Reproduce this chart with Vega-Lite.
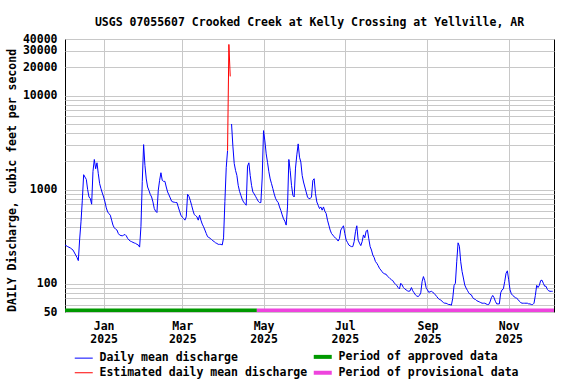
{
  "$schema": "https://vega.github.io/schema/vega-lite/v6.json",
  "width": 489,
  "height": 273,
  "autosize": {"type": "none"},
  "padding": {"left": 65, "top": 39, "right": 22, "bottom": 72},
  "background": "white",
  "title": {
    "text": "USGS 07055607 Crooked Creek at Kelly Crossing at Yellville, AR",
    "font": "DejaVu Sans Mono",
    "fontSize": 11.5,
    "fontWeight": "bold",
    "color": "black",
    "anchor": "middle",
    "frame": "group",
    "baseline": "alphabetic",
    "offset": -4
  },
  "config": {
    "view": {"stroke": "black", "strokeWidth": 1},
    "axis": {
      "labelFont": "DejaVu Sans Mono",
      "labelFontSize": 11.5,
      "labelFontWeight": "bold",
      "labelColor": "black",
      "titleFont": "DejaVu Sans Mono",
      "titleFontSize": 11.5,
      "titleFontWeight": "bold",
      "titleColor": "black",
      "gridColor": "#c8c8c8",
      "gridWidth": 1,
      "gridOpacity": 1,
      "ticks": false,
      "domain": false,
      "labelOverlap": false,
      "labelFlush": false,
      "labelBound": false
    },
    "legend": {
      "title": null,
      "orient": "bottom",
      "columns": 2,
      "symbolType": "stroke",
      "symbolSize": 324,
      "labelFont": "DejaVu Sans Mono",
      "labelFontSize": 11.5,
      "labelFontWeight": "bold",
      "labelColor": "black",
      "labelLimit": 0,
      "labelOffset": 10,
      "columnPadding": -3,
      "rowPadding": -1,
      "padding": 13,
      "offset": -7
    }
  },
  "datasets": {
    "daily": [
      {"date": "2024-12-03", "cfs": 258, "seg": "a"},
      {"date": "2024-12-05", "cfs": 248, "seg": "a"},
      {"date": "2024-12-07", "cfs": 240, "seg": "a"},
      {"date": "2024-12-09", "cfs": 228, "seg": "a"},
      {"date": "2024-12-11", "cfs": 202, "seg": "a"},
      {"date": "2024-12-12", "cfs": 190, "seg": "a"},
      {"date": "2024-12-13", "cfs": 176, "seg": "a"},
      {"date": "2024-12-14", "cfs": 298, "seg": "a"},
      {"date": "2024-12-15", "cfs": 455, "seg": "a"},
      {"date": "2024-12-16", "cfs": 771, "seg": "a"},
      {"date": "2024-12-17", "cfs": 1442, "seg": "a"},
      {"date": "2024-12-18", "cfs": 1360, "seg": "a"},
      {"date": "2024-12-19", "cfs": 1286, "seg": "a"},
      {"date": "2024-12-20", "cfs": 1000, "seg": "a"},
      {"date": "2024-12-21", "cfs": 836, "seg": "a"},
      {"date": "2024-12-22", "cfs": 803, "seg": "a"},
      {"date": "2024-12-23", "cfs": 700, "seg": "a"},
      {"date": "2024-12-24", "cfs": 1563, "seg": "a"},
      {"date": "2024-12-25", "cfs": 2094, "seg": "a"},
      {"date": "2024-12-26", "cfs": 1668, "seg": "a"},
      {"date": "2024-12-27", "cfs": 1930, "seg": "a"},
      {"date": "2024-12-28", "cfs": 1477, "seg": "a"},
      {"date": "2024-12-29", "cfs": 1158, "seg": "a"},
      {"date": "2024-12-30", "cfs": 1025, "seg": "a"},
      {"date": "2024-12-31", "cfs": 920, "seg": "a"},
      {"date": "2025-01-01", "cfs": 836, "seg": "a"},
      {"date": "2025-01-02", "cfs": 740, "seg": "a"},
      {"date": "2025-01-03", "cfs": 640, "seg": "a"},
      {"date": "2025-01-04", "cfs": 580, "seg": "a"},
      {"date": "2025-01-05", "cfs": 555, "seg": "a"},
      {"date": "2025-01-06", "cfs": 535, "seg": "a"},
      {"date": "2025-01-07", "cfs": 474, "seg": "a"},
      {"date": "2025-01-08", "cfs": 420, "seg": "a"},
      {"date": "2025-01-09", "cfs": 393, "seg": "a"},
      {"date": "2025-01-10", "cfs": 380, "seg": "a"},
      {"date": "2025-01-11", "cfs": 372, "seg": "a"},
      {"date": "2025-01-12", "cfs": 342, "seg": "a"},
      {"date": "2025-01-13", "cfs": 329, "seg": "a"},
      {"date": "2025-01-14", "cfs": 325, "seg": "a"},
      {"date": "2025-01-15", "cfs": 323, "seg": "a"},
      {"date": "2025-01-16", "cfs": 328, "seg": "a"},
      {"date": "2025-01-17", "cfs": 334, "seg": "a"},
      {"date": "2025-01-18", "cfs": 323, "seg": "a"},
      {"date": "2025-01-19", "cfs": 303, "seg": "a"},
      {"date": "2025-01-20", "cfs": 292, "seg": "a"},
      {"date": "2025-01-21", "cfs": 284, "seg": "a"},
      {"date": "2025-01-22", "cfs": 280, "seg": "a"},
      {"date": "2025-01-23", "cfs": 275, "seg": "a"},
      {"date": "2025-01-24", "cfs": 271, "seg": "a"},
      {"date": "2025-01-25", "cfs": 268, "seg": "a"},
      {"date": "2025-01-26", "cfs": 262, "seg": "a"},
      {"date": "2025-01-27", "cfs": 258, "seg": "a"},
      {"date": "2025-01-28", "cfs": 245, "seg": "a"},
      {"date": "2025-01-29", "cfs": 406, "seg": "a"},
      {"date": "2025-01-30", "cfs": 1224, "seg": "a"},
      {"date": "2025-01-31", "cfs": 3012, "seg": "a"},
      {"date": "2025-02-01", "cfs": 1809, "seg": "a"},
      {"date": "2025-02-02", "cfs": 1300, "seg": "a"},
      {"date": "2025-02-03", "cfs": 1067, "seg": "a"},
      {"date": "2025-02-04", "cfs": 980, "seg": "a"},
      {"date": "2025-02-05", "cfs": 890, "seg": "a"},
      {"date": "2025-02-06", "cfs": 836, "seg": "a"},
      {"date": "2025-02-07", "cfs": 740, "seg": "a"},
      {"date": "2025-02-08", "cfs": 630, "seg": "a"},
      {"date": "2025-02-09", "cfs": 590, "seg": "a"},
      {"date": "2025-02-10", "cfs": 571, "seg": "a"},
      {"date": "2025-02-11", "cfs": 985, "seg": "a"},
      {"date": "2025-02-12", "cfs": 1255, "seg": "a"},
      {"date": "2025-02-13", "cfs": 1513, "seg": "a"},
      {"date": "2025-02-14", "cfs": 1255, "seg": "a"},
      {"date": "2025-02-15", "cfs": 1225, "seg": "a"},
      {"date": "2025-02-16", "cfs": 1225, "seg": "a"},
      {"date": "2025-02-17", "cfs": 1067, "seg": "a"},
      {"date": "2025-02-18", "cfs": 945, "seg": "a"},
      {"date": "2025-02-19", "cfs": 880, "seg": "a"},
      {"date": "2025-02-20", "cfs": 816, "seg": "a"},
      {"date": "2025-02-21", "cfs": 753, "seg": "a"},
      {"date": "2025-02-22", "cfs": 740, "seg": "a"},
      {"date": "2025-02-23", "cfs": 735, "seg": "a"},
      {"date": "2025-02-24", "cfs": 730, "seg": "a"},
      {"date": "2025-02-25", "cfs": 729, "seg": "a"},
      {"date": "2025-02-26", "cfs": 655, "seg": "a"},
      {"date": "2025-02-27", "cfs": 590, "seg": "a"},
      {"date": "2025-02-28", "cfs": 535, "seg": "a"},
      {"date": "2025-03-01", "cfs": 510, "seg": "a"},
      {"date": "2025-03-02", "cfs": 494, "seg": "a"},
      {"date": "2025-03-03", "cfs": 474, "seg": "a"},
      {"date": "2025-03-04", "cfs": 514, "seg": "a"},
      {"date": "2025-03-05", "cfs": 892, "seg": "a"},
      {"date": "2025-03-06", "cfs": 850, "seg": "a"},
      {"date": "2025-03-07", "cfs": 771, "seg": "a"},
      {"date": "2025-03-08", "cfs": 683, "seg": "a"},
      {"date": "2025-03-09", "cfs": 605, "seg": "a"},
      {"date": "2025-03-10", "cfs": 544, "seg": "a"},
      {"date": "2025-03-11", "cfs": 530, "seg": "a"},
      {"date": "2025-03-12", "cfs": 514, "seg": "a"},
      {"date": "2025-03-13", "cfs": 474, "seg": "a"},
      {"date": "2025-03-14", "cfs": 535, "seg": "a"},
      {"date": "2025-03-15", "cfs": 474, "seg": "a"},
      {"date": "2025-03-16", "cfs": 430, "seg": "a"},
      {"date": "2025-03-17", "cfs": 403, "seg": "a"},
      {"date": "2025-03-18", "cfs": 372, "seg": "a"},
      {"date": "2025-03-19", "cfs": 342, "seg": "a"},
      {"date": "2025-03-20", "cfs": 316, "seg": "a"},
      {"date": "2025-03-21", "cfs": 310, "seg": "a"},
      {"date": "2025-03-22", "cfs": 303, "seg": "a"},
      {"date": "2025-03-23", "cfs": 295, "seg": "a"},
      {"date": "2025-03-24", "cfs": 286, "seg": "a"},
      {"date": "2025-03-25", "cfs": 280, "seg": "a"},
      {"date": "2025-03-26", "cfs": 272, "seg": "a"},
      {"date": "2025-03-27", "cfs": 268, "seg": "a"},
      {"date": "2025-03-28", "cfs": 262, "seg": "a"},
      {"date": "2025-03-29", "cfs": 262, "seg": "a"},
      {"date": "2025-03-30", "cfs": 262, "seg": "a"},
      {"date": "2025-03-31", "cfs": 258, "seg": "a"},
      {"date": "2025-04-01", "cfs": 307, "seg": "a"},
      {"date": "2025-04-02", "cfs": 750, "seg": "a"},
      {"date": "2025-04-03", "cfs": 1712, "seg": "a"},
      {"date": "2025-04-04", "cfs": 2600, "seg": "a"},
      {"date": "2025-04-07", "cfs": 4990, "seg": "b"},
      {"date": "2025-04-08", "cfs": 2900, "seg": "b"},
      {"date": "2025-04-09", "cfs": 1900, "seg": "b"},
      {"date": "2025-04-10", "cfs": 1600, "seg": "b"},
      {"date": "2025-04-11", "cfs": 1418, "seg": "b"},
      {"date": "2025-04-12", "cfs": 1111, "seg": "b"},
      {"date": "2025-04-13", "cfs": 960, "seg": "b"},
      {"date": "2025-04-14", "cfs": 870, "seg": "b"},
      {"date": "2025-04-15", "cfs": 790, "seg": "b"},
      {"date": "2025-04-16", "cfs": 740, "seg": "b"},
      {"date": "2025-04-17", "cfs": 711, "seg": "b"},
      {"date": "2025-04-18", "cfs": 683, "seg": "b"},
      {"date": "2025-04-19", "cfs": 1780, "seg": "b"},
      {"date": "2025-04-20", "cfs": 1930, "seg": "b"},
      {"date": "2025-04-21", "cfs": 1418, "seg": "b"},
      {"date": "2025-04-22", "cfs": 1111, "seg": "b"},
      {"date": "2025-04-23", "cfs": 945, "seg": "b"},
      {"date": "2025-04-24", "cfs": 900, "seg": "b"},
      {"date": "2025-04-25", "cfs": 850, "seg": "b"},
      {"date": "2025-04-26", "cfs": 800, "seg": "b"},
      {"date": "2025-04-27", "cfs": 753, "seg": "b"},
      {"date": "2025-04-28", "cfs": 729, "seg": "b"},
      {"date": "2025-04-29", "cfs": 729, "seg": "b"},
      {"date": "2025-04-30", "cfs": 1330, "seg": "b"},
      {"date": "2025-05-01", "cfs": 4243, "seg": "b"},
      {"date": "2025-05-02", "cfs": 3300, "seg": "b"},
      {"date": "2025-05-03", "cfs": 2403, "seg": "b"},
      {"date": "2025-05-04", "cfs": 1950, "seg": "b"},
      {"date": "2025-05-05", "cfs": 1550, "seg": "b"},
      {"date": "2025-05-06", "cfs": 1300, "seg": "b"},
      {"date": "2025-05-07", "cfs": 1157, "seg": "b"},
      {"date": "2025-05-08", "cfs": 1025, "seg": "b"},
      {"date": "2025-05-09", "cfs": 900, "seg": "b"},
      {"date": "2025-05-10", "cfs": 810, "seg": "b"},
      {"date": "2025-05-11", "cfs": 760, "seg": "b"},
      {"date": "2025-05-12", "cfs": 729, "seg": "b"},
      {"date": "2025-05-13", "cfs": 655, "seg": "b"},
      {"date": "2025-05-14", "cfs": 600, "seg": "b"},
      {"date": "2025-05-15", "cfs": 540, "seg": "b"},
      {"date": "2025-05-16", "cfs": 490, "seg": "b"},
      {"date": "2025-05-17", "cfs": 462, "seg": "b"},
      {"date": "2025-05-18", "cfs": 420, "seg": "b"},
      {"date": "2025-05-19", "cfs": 655, "seg": "b"},
      {"date": "2025-05-20", "cfs": 2094, "seg": "b"},
      {"date": "2025-05-21", "cfs": 1602, "seg": "b"},
      {"date": "2025-05-22", "cfs": 1111, "seg": "b"},
      {"date": "2025-05-23", "cfs": 871, "seg": "b"},
      {"date": "2025-05-24", "cfs": 836, "seg": "b"},
      {"date": "2025-05-25", "cfs": 1695, "seg": "b"},
      {"date": "2025-05-26", "cfs": 2345, "seg": "b"},
      {"date": "2025-05-27", "cfs": 3066, "seg": "b"},
      {"date": "2025-05-28", "cfs": 2214, "seg": "b"},
      {"date": "2025-05-29", "cfs": 1963, "seg": "b"},
      {"date": "2025-05-30", "cfs": 1418, "seg": "b"},
      {"date": "2025-05-31", "cfs": 1206, "seg": "b"},
      {"date": "2025-06-01", "cfs": 1067, "seg": "b"},
      {"date": "2025-06-02", "cfs": 945, "seg": "b"},
      {"date": "2025-06-03", "cfs": 836, "seg": "b"},
      {"date": "2025-06-04", "cfs": 803, "seg": "b"},
      {"date": "2025-06-05", "cfs": 803, "seg": "b"},
      {"date": "2025-06-06", "cfs": 836, "seg": "b"},
      {"date": "2025-06-07", "cfs": 1255, "seg": "b"},
      {"date": "2025-06-08", "cfs": 1307, "seg": "b"},
      {"date": "2025-06-09", "cfs": 907, "seg": "b"},
      {"date": "2025-06-10", "cfs": 740, "seg": "b"},
      {"date": "2025-06-11", "cfs": 683, "seg": "b"},
      {"date": "2025-06-12", "cfs": 630, "seg": "b"},
      {"date": "2025-06-13", "cfs": 655, "seg": "b"},
      {"date": "2025-06-14", "cfs": 605, "seg": "b"},
      {"date": "2025-06-15", "cfs": 655, "seg": "b"},
      {"date": "2025-06-16", "cfs": 590, "seg": "b"},
      {"date": "2025-06-17", "cfs": 558, "seg": "b"},
      {"date": "2025-06-18", "cfs": 474, "seg": "b"},
      {"date": "2025-06-19", "cfs": 420, "seg": "b"},
      {"date": "2025-06-20", "cfs": 372, "seg": "b"},
      {"date": "2025-06-21", "cfs": 342, "seg": "b"},
      {"date": "2025-06-22", "cfs": 329, "seg": "b"},
      {"date": "2025-06-23", "cfs": 316, "seg": "b"},
      {"date": "2025-06-24", "cfs": 305, "seg": "b"},
      {"date": "2025-06-25", "cfs": 298, "seg": "b"},
      {"date": "2025-06-26", "cfs": 284, "seg": "b"},
      {"date": "2025-06-27", "cfs": 303, "seg": "b"},
      {"date": "2025-06-28", "cfs": 372, "seg": "b"},
      {"date": "2025-06-29", "cfs": 393, "seg": "b"},
      {"date": "2025-06-30", "cfs": 413, "seg": "b"},
      {"date": "2025-07-01", "cfs": 342, "seg": "b"},
      {"date": "2025-07-02", "cfs": 291, "seg": "b"},
      {"date": "2025-07-03", "cfs": 275, "seg": "b"},
      {"date": "2025-07-04", "cfs": 258, "seg": "b"},
      {"date": "2025-07-05", "cfs": 252, "seg": "b"},
      {"date": "2025-07-06", "cfs": 248, "seg": "b"},
      {"date": "2025-07-07", "cfs": 248, "seg": "b"},
      {"date": "2025-07-08", "cfs": 280, "seg": "b"},
      {"date": "2025-07-09", "cfs": 357, "seg": "b"},
      {"date": "2025-07-10", "cfs": 413, "seg": "b"},
      {"date": "2025-07-11", "cfs": 291, "seg": "b"},
      {"date": "2025-07-12", "cfs": 270, "seg": "b"},
      {"date": "2025-07-13", "cfs": 254, "seg": "b"},
      {"date": "2025-07-14", "cfs": 280, "seg": "b"},
      {"date": "2025-07-15", "cfs": 330, "seg": "b"},
      {"date": "2025-07-16", "cfs": 308, "seg": "b"},
      {"date": "2025-07-17", "cfs": 362, "seg": "b"},
      {"date": "2025-07-18", "cfs": 372, "seg": "b"},
      {"date": "2025-07-19", "cfs": 300, "seg": "b"},
      {"date": "2025-07-20", "cfs": 248, "seg": "b"},
      {"date": "2025-07-21", "cfs": 228, "seg": "b"},
      {"date": "2025-07-22", "cfs": 202, "seg": "b"},
      {"date": "2025-07-23", "cfs": 190, "seg": "b"},
      {"date": "2025-07-24", "cfs": 172, "seg": "b"},
      {"date": "2025-07-25", "cfs": 165, "seg": "b"},
      {"date": "2025-07-26", "cfs": 156, "seg": "b"},
      {"date": "2025-07-27", "cfs": 146, "seg": "b"},
      {"date": "2025-07-28", "cfs": 140, "seg": "b"},
      {"date": "2025-07-29", "cfs": 134, "seg": "b"},
      {"date": "2025-07-30", "cfs": 129, "seg": "b"},
      {"date": "2025-07-31", "cfs": 127, "seg": "b"},
      {"date": "2025-08-01", "cfs": 126, "seg": "b"},
      {"date": "2025-08-02", "cfs": 120, "seg": "b"},
      {"date": "2025-08-03", "cfs": 117, "seg": "b"},
      {"date": "2025-08-04", "cfs": 113, "seg": "b"},
      {"date": "2025-08-05", "cfs": 110, "seg": "b"},
      {"date": "2025-08-06", "cfs": 108, "seg": "b"},
      {"date": "2025-08-07", "cfs": 102, "seg": "b"},
      {"date": "2025-08-08", "cfs": 99, "seg": "b"},
      {"date": "2025-08-09", "cfs": 96, "seg": "b"},
      {"date": "2025-08-10", "cfs": 91, "seg": "b"},
      {"date": "2025-08-11", "cfs": 88, "seg": "b"},
      {"date": "2025-08-12", "cfs": 101, "seg": "b"},
      {"date": "2025-08-13", "cfs": 97, "seg": "b"},
      {"date": "2025-08-14", "cfs": 91, "seg": "b"},
      {"date": "2025-08-15", "cfs": 88, "seg": "b"},
      {"date": "2025-08-16", "cfs": 86, "seg": "b"},
      {"date": "2025-08-17", "cfs": 84, "seg": "b"},
      {"date": "2025-08-18", "cfs": 83, "seg": "b"},
      {"date": "2025-08-19", "cfs": 84, "seg": "b"},
      {"date": "2025-08-20", "cfs": 91, "seg": "b"},
      {"date": "2025-08-21", "cfs": 84, "seg": "b"},
      {"date": "2025-08-22", "cfs": 80, "seg": "b"},
      {"date": "2025-08-23", "cfs": 76, "seg": "b"},
      {"date": "2025-08-24", "cfs": 74, "seg": "b"},
      {"date": "2025-08-25", "cfs": 73, "seg": "b"},
      {"date": "2025-08-26", "cfs": 75, "seg": "b"},
      {"date": "2025-08-27", "cfs": 80, "seg": "b"},
      {"date": "2025-08-28", "cfs": 105, "seg": "b"},
      {"date": "2025-08-29", "cfs": 119, "seg": "b"},
      {"date": "2025-08-30", "cfs": 108, "seg": "b"},
      {"date": "2025-08-31", "cfs": 91, "seg": "b"},
      {"date": "2025-09-01", "cfs": 86, "seg": "b"},
      {"date": "2025-09-02", "cfs": 81, "seg": "b"},
      {"date": "2025-09-03", "cfs": 82, "seg": "b"},
      {"date": "2025-09-04", "cfs": 83, "seg": "b"},
      {"date": "2025-09-05", "cfs": 81, "seg": "b"},
      {"date": "2025-09-06", "cfs": 79, "seg": "b"},
      {"date": "2025-09-07", "cfs": 76, "seg": "b"},
      {"date": "2025-09-08", "cfs": 73, "seg": "b"},
      {"date": "2025-09-09", "cfs": 70, "seg": "b"},
      {"date": "2025-09-10", "cfs": 68, "seg": "b"},
      {"date": "2025-09-11", "cfs": 67, "seg": "b"},
      {"date": "2025-09-12", "cfs": 65, "seg": "b"},
      {"date": "2025-09-13", "cfs": 63, "seg": "b"},
      {"date": "2025-09-14", "cfs": 62, "seg": "b"},
      {"date": "2025-09-15", "cfs": 62, "seg": "b"},
      {"date": "2025-09-16", "cfs": 61, "seg": "b"},
      {"date": "2025-09-17", "cfs": 60, "seg": "b"},
      {"date": "2025-09-18", "cfs": 60, "seg": "b"},
      {"date": "2025-09-19", "cfs": 59, "seg": "b"},
      {"date": "2025-09-20", "cfs": 70, "seg": "b"},
      {"date": "2025-09-21", "cfs": 96, "seg": "b"},
      {"date": "2025-09-22", "cfs": 101, "seg": "b"},
      {"date": "2025-09-23", "cfs": 171, "seg": "b"},
      {"date": "2025-09-24", "cfs": 272, "seg": "b"},
      {"date": "2025-09-25", "cfs": 250, "seg": "b"},
      {"date": "2025-09-26", "cfs": 171, "seg": "b"},
      {"date": "2025-09-27", "cfs": 135, "seg": "b"},
      {"date": "2025-09-28", "cfs": 115, "seg": "b"},
      {"date": "2025-09-29", "cfs": 97, "seg": "b"},
      {"date": "2025-09-30", "cfs": 90, "seg": "b"},
      {"date": "2025-10-01", "cfs": 85, "seg": "b"},
      {"date": "2025-10-02", "cfs": 80, "seg": "b"},
      {"date": "2025-10-03", "cfs": 77, "seg": "b"},
      {"date": "2025-10-04", "cfs": 76, "seg": "b"},
      {"date": "2025-10-05", "cfs": 71, "seg": "b"},
      {"date": "2025-10-06", "cfs": 69, "seg": "b"},
      {"date": "2025-10-07", "cfs": 68, "seg": "b"},
      {"date": "2025-10-08", "cfs": 66, "seg": "b"},
      {"date": "2025-10-09", "cfs": 65, "seg": "b"},
      {"date": "2025-10-10", "cfs": 64, "seg": "b"},
      {"date": "2025-10-11", "cfs": 63, "seg": "b"},
      {"date": "2025-10-12", "cfs": 62, "seg": "b"},
      {"date": "2025-10-13", "cfs": 62, "seg": "b"},
      {"date": "2025-10-14", "cfs": 62, "seg": "b"},
      {"date": "2025-10-15", "cfs": 61, "seg": "b"},
      {"date": "2025-10-16", "cfs": 60, "seg": "b"},
      {"date": "2025-10-17", "cfs": 60, "seg": "b"},
      {"date": "2025-10-18", "cfs": 64, "seg": "b"},
      {"date": "2025-10-19", "cfs": 71, "seg": "b"},
      {"date": "2025-10-20", "cfs": 75, "seg": "b"},
      {"date": "2025-10-21", "cfs": 71, "seg": "b"},
      {"date": "2025-10-22", "cfs": 65, "seg": "b"},
      {"date": "2025-10-23", "cfs": 61, "seg": "b"},
      {"date": "2025-10-24", "cfs": 61, "seg": "b"},
      {"date": "2025-10-25", "cfs": 61, "seg": "b"},
      {"date": "2025-10-26", "cfs": 80, "seg": "b"},
      {"date": "2025-10-27", "cfs": 86, "seg": "b"},
      {"date": "2025-10-28", "cfs": 88, "seg": "b"},
      {"date": "2025-10-29", "cfs": 105, "seg": "b"},
      {"date": "2025-10-30", "cfs": 129, "seg": "b"},
      {"date": "2025-10-31", "cfs": 137, "seg": "b"},
      {"date": "2025-11-01", "cfs": 110, "seg": "b"},
      {"date": "2025-11-02", "cfs": 86, "seg": "b"},
      {"date": "2025-11-03", "cfs": 78, "seg": "b"},
      {"date": "2025-11-04", "cfs": 75, "seg": "b"},
      {"date": "2025-11-05", "cfs": 73, "seg": "b"},
      {"date": "2025-11-06", "cfs": 71, "seg": "b"},
      {"date": "2025-11-07", "cfs": 70, "seg": "b"},
      {"date": "2025-11-08", "cfs": 68, "seg": "b"},
      {"date": "2025-11-09", "cfs": 65, "seg": "b"},
      {"date": "2025-11-10", "cfs": 63, "seg": "b"},
      {"date": "2025-11-11", "cfs": 62, "seg": "b"},
      {"date": "2025-11-12", "cfs": 62, "seg": "b"},
      {"date": "2025-11-13", "cfs": 62, "seg": "b"},
      {"date": "2025-11-14", "cfs": 62, "seg": "b"},
      {"date": "2025-11-15", "cfs": 62, "seg": "b"},
      {"date": "2025-11-16", "cfs": 61, "seg": "b"},
      {"date": "2025-11-17", "cfs": 61, "seg": "b"},
      {"date": "2025-11-18", "cfs": 60, "seg": "b"},
      {"date": "2025-11-19", "cfs": 60, "seg": "b"},
      {"date": "2025-11-20", "cfs": 62, "seg": "b"},
      {"date": "2025-11-21", "cfs": 75, "seg": "b"},
      {"date": "2025-11-22", "cfs": 96, "seg": "b"},
      {"date": "2025-11-23", "cfs": 91, "seg": "b"},
      {"date": "2025-11-24", "cfs": 96, "seg": "b"},
      {"date": "2025-11-25", "cfs": 108, "seg": "b"},
      {"date": "2025-11-26", "cfs": 109, "seg": "b"},
      {"date": "2025-11-27", "cfs": 101, "seg": "b"},
      {"date": "2025-11-28", "cfs": 94, "seg": "b"},
      {"date": "2025-11-29", "cfs": 94, "seg": "b"},
      {"date": "2025-11-30", "cfs": 87, "seg": "b"},
      {"date": "2025-12-01", "cfs": 84, "seg": "b"},
      {"date": "2025-12-02", "cfs": 83, "seg": "b"},
      {"date": "2025-12-03", "cfs": 83, "seg": "b"},
      {"date": "2025-12-04", "cfs": 83, "seg": "b"}
    ],
    "estimated": [
      {"date": "2025-04-04", "cfs": 2600},
      {"date": "2025-04-05", "cfs": 35000},
      {"date": "2025-04-06", "cfs": 16000}
    ],
    "periods": [
      {"period": "Period of approved data", "start": "2024-12-03", "end": "2025-04-26"},
      {"period": "Period of provisional data", "start": "2025-04-26", "end": "2025-12-05"}
    ]
  },
  "layer": [
    {
      "data": {"name": "periods"},
      "mark": {"type": "rule", "strokeWidth": 3.5},
      "encoding": {
        "x": {"field": "start", "type": "temporal"},
        "x2": {"field": "end"},
        "y": {"datum": 52.2},
        "color": {
          "field": "period",
          "type": "nominal",
          "title": null,
          "scale": {
            "domain": ["Daily mean discharge", "Period of approved data", "Estimated daily mean discharge", "Period of provisional data"],
            "range": ["#0000ff", "#009900", "#ff0000", "#ee44dd"]
          },
          "legend": {
            "title": null,
            "symbolStrokeWidth": {"expr": "indexof(['Period of approved data', 'Period of provisional data'], datum.value) >= 0 ? 4 : 1"}
          }
        }
      }
    },
    {
      "data": {"name": "daily"},
      "mark": {"type": "line", "strokeWidth": 1},
      "encoding": {
        "x": {
          "field": "date",
          "type": "temporal",
          "scale": {
            "type": "utc",
            "domain": [
              {"year": 2024, "month": 12, "date": 3, "utc": true},
              {"year": 2025, "month": 12, "date": 5, "utc": true}
            ]
          },
          "axis": {
            "title": null,
            "grid": true,
            "values": [
              {"year": 2025, "month": 1, "date": 1, "utc": true},
              {"year": 2025, "month": 3, "date": 1, "utc": true},
              {"year": 2025, "month": 5, "date": 1, "utc": true},
              {"year": 2025, "month": 7, "date": 1, "utc": true},
              {"year": 2025, "month": 9, "date": 1, "utc": true},
              {"year": 2025, "month": 11, "date": 1, "utc": true}
            ],
            "labelExpr": "[utcFormat(datum.value, '%b'), utcFormat(datum.value, '%Y')]",
            "labelLineHeight": 13,
            "labelBaseline": "top",
            "labelPadding": 8
          }
        },
        "y": {
          "field": "cfs",
          "type": "quantitative",
          "scale": {"type": "log", "domain": [50, 40000], "nice": false},
          "axis": {
            "title": "DAILY Discharge, cubic feet per second",
            "grid": true,
            "values": [50, 60, 70, 80, 90, 100, 200, 300, 400, 500, 600, 700, 800, 900, 1000, 2000, 3000, 4000, 5000, 6000, 7000, 8000, 9000, 10000, 20000, 30000, 40000],
            "labelExpr": "indexof([50, 100, 1000, 10000, 20000, 30000, 40000], datum.value) >= 0 ? '' + datum.value : ''",
            "labelPadding": 8,
            "titlePadding": 5,
            "titleY": 141
          }
        },
        "detail": {"field": "seg", "type": "nominal"},
        "color": {"datum": "Daily mean discharge", "type": "nominal"}
      }
    },
    {
      "data": {"name": "estimated"},
      "mark": {"type": "line", "strokeWidth": 1},
      "encoding": {
        "x": {"field": "date", "type": "temporal"},
        "y": {"field": "cfs", "type": "quantitative"},
        "color": {"datum": "Estimated daily mean discharge", "type": "nominal"}
      }
    }
  ]
}
